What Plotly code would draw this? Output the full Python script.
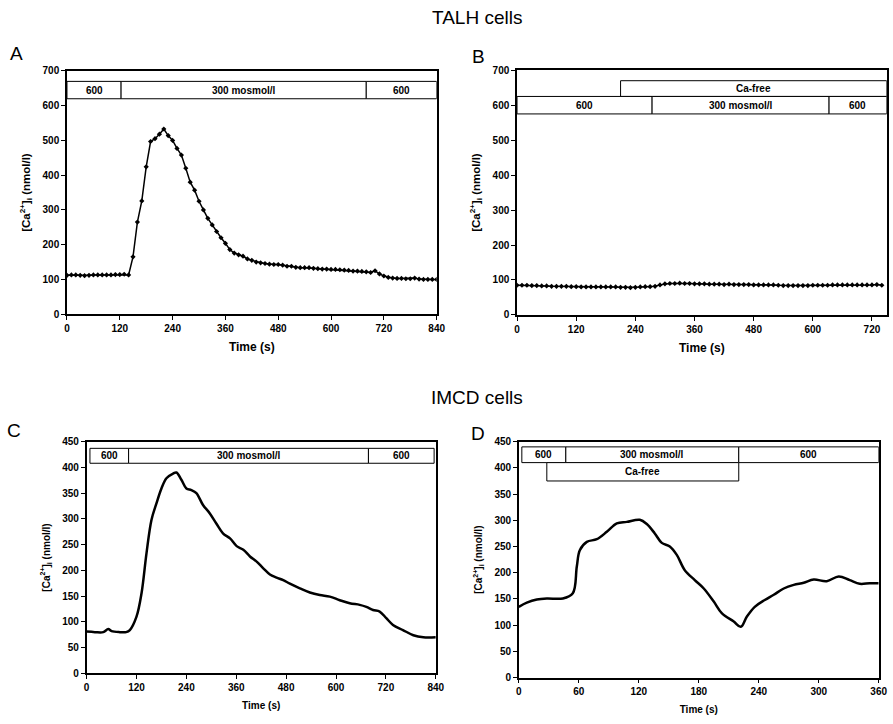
import plotly.graph_objects as go

# ---- data ----------------------------------------------------------------
# Panel A: TALH cells, 600 -> 300 -> 600 mosmol/l
time_a = [0, 10, 20, 30, 40, 50, 60, 70, 80, 90, 100, 110, 120, 130, 140, 150, 160, 170, 180, 190,
          200, 210, 220, 230, 240, 250, 260, 270, 280, 290, 300, 310, 320, 330, 340, 350, 360, 370, 380, 390,
          400, 410, 420, 430, 440, 450, 460, 470, 480, 490, 500, 510, 520, 530, 540, 550, 560, 570, 580, 590,
          600, 610, 620, 630, 640, 650, 660, 670, 680, 690, 700, 710, 720, 730, 740, 750, 760, 770, 780, 790,
          800, 810, 820, 830, 840]
ca_a = [112, 113, 113, 112, 111, 112, 113, 113, 113, 113, 113, 114, 114, 115, 113, 165, 265, 326, 424, 497,
        505, 518, 533, 514, 500, 477, 458, 420, 380, 357, 325, 300, 276, 257, 238, 220, 204, 186, 176, 171,
        167, 159, 155, 150, 148, 146, 144, 143, 143, 141, 138, 138, 135, 134, 134, 134, 132, 131, 130, 130,
        129, 129, 128, 127, 126, 124, 124, 123, 122, 120, 125, 116, 110, 106, 104, 103, 103, 102, 102, 104,
        101, 100, 100, 100, 100]

# Panel B: TALH cells, Ca-free
time_b = [0, 10, 20, 30, 40, 50, 60, 70, 80, 90, 100, 110, 120, 130, 140, 150, 160, 170, 180, 190,
          200, 210, 220, 230, 240, 250, 260, 270, 280, 290, 300, 310, 320, 330, 340, 350, 360, 370, 380, 390,
          400, 410, 420, 430, 440, 450, 460, 470, 480, 490, 500, 510, 520, 530, 540, 550, 560, 570, 580, 590,
          600, 610, 620, 630, 640, 650, 660, 670, 680, 690, 700, 710, 720, 730, 740]
ca_b = [85, 85, 85, 84, 84, 83, 83, 82, 82, 82, 82, 81, 81, 80, 80, 80, 80, 80, 80, 80,
        80, 79, 79, 78, 79, 80, 81, 81, 82, 86, 89, 90, 90, 91, 90, 90, 89, 89, 89, 88,
        88, 88, 87, 88, 87, 87, 87, 87, 86, 86, 86, 86, 86, 85, 84, 84, 84, 84, 84, 84,
        85, 85, 85, 85, 86, 86, 86, 86, 86, 86, 86, 86, 86, 87, 85]

# Panel C: IMCD cells
time_c = [0, 20, 40, 52, 60, 80, 95, 104, 120, 132, 144, 156, 168, 180, 192, 208, 216, 228, 240, 252,
          264, 280, 296, 312, 328, 345, 361, 377, 393, 409, 425, 441, 457, 473, 489, 513, 537, 561, 585, 609,
          633, 657, 673, 689, 705, 721, 737, 761, 786, 810, 840]
ca_c = [81, 80, 80, 86, 82, 80, 80, 84, 110, 155, 233, 298, 330, 359, 379, 388, 390, 376, 359, 356,
        350, 327, 311, 291, 272, 262, 247, 240, 227, 217, 204, 192, 186, 181, 174, 165, 157, 152, 149, 142,
        136, 133, 129, 123, 120, 107, 94, 84, 74, 70, 70]

# Panel D: IMCD cells, Ca-free
time_d = [0, 8, 18, 28, 44, 54, 58, 61, 68, 78, 88, 98, 108, 121, 128, 136, 143, 151, 158, 166,
          176, 185, 195, 203, 215, 222, 228, 236, 246, 255, 265, 275, 285, 295, 308, 320, 331, 341, 351, 360]
ca_d = [135, 143, 149, 151, 151, 161, 212, 243, 259, 264, 278, 294, 297, 301, 293, 275, 257, 250, 234, 205,
        186, 170, 145, 123, 107, 97, 116, 135, 148, 158, 170, 177, 181, 187, 184, 193, 186, 179, 180, 180]

# solution bars: (axis, x0, x1, y0, y1, label)
bars = [
    ("", 0, 123, 620, 670, "600"), ("", 123, 680, 620, 670, "300 mosmol/l"), ("", 680, 840, 620, 670, "600"),
    ("2", 210, 750, 625, 670, "Ca-free"),
    ("2", 0, 274, 575, 625, "600"), ("2", 274, 633, 575, 625, "300 mosmol/l"), ("2", 633, 750, 575, 625, "600"),
    ("3", 8, 101, 408, 437, "600"), ("3", 101, 678, 408, 437, "300 mosmol/l"), ("3", 678, 836, 408, 437, "600"),
    ("4", 3, 47, 410, 440, "600"), ("4", 47, 220, 410, 440, "300 mosmol/l"), ("4", 220, 360, 410, 440, "600"),
    ("4", 28, 220, 375, 410, "Ca-free"),
]

FONT = "Liberation Sans, Arial, sans-serif"
ca_title = "[Ca<sup>2+</sup>]<sub>i</sub> (nmol/l)"

fig = go.Figure()
line = dict(color="black", width=1.5)
fig.add_trace(go.Scatter(x=time_a, y=ca_a, mode="lines+markers", line=line,
                         marker=dict(symbol="diamond", size=4, color="black"), xaxis="x", yaxis="y"))
fig.add_trace(go.Scatter(x=time_b, y=ca_b, mode="lines+markers", line=line,
                         marker=dict(symbol="diamond", size=4, color="black"), xaxis="x2", yaxis="y2"))
fig.add_trace(go.Scatter(x=time_c, y=ca_c, mode="lines", line=dict(color="black", width=2.5, shape="spline"),
                         xaxis="x3", yaxis="y3"))
fig.add_trace(go.Scatter(x=time_d, y=ca_d, mode="lines", line=dict(color="black", width=2.5, shape="spline"),
                         xaxis="x4", yaxis="y4"))

for ax, x0, x1, y0, y1, label in bars:
    fig.add_shape(type="rect", xref="x" + ax, yref="y" + ax, x0=x0, x1=x1, y0=y0, y1=y1,
                  line=dict(color="black", width=1), fillcolor="white", layer="above")
    fig.add_annotation(x=(x0 + x1) / 2, y=(y0 + y1) / 2, xref="x" + ax, yref="y" + ax,
                       xanchor="center", yanchor="middle", text=label, showarrow=False,
                       font=dict(size=10, family=FONT, weight="bold", color="black"))


def axis_style(domain, rng, dtick, title, size, anchor, standoff):
    return dict(domain=domain, range=rng, dtick=dtick, tick0=0, showline=True, mirror=True,
                linecolor="black", linewidth=1.5, ticks="outside", ticklen=4, tickcolor="black",
                showgrid=False, zeroline=False, anchor=anchor, automargin=False,
                tickfont=dict(size=10, family=FONT, weight="bold", color="black"),
                title=dict(text=title, standoff=standoff,
                           font=dict(size=size, family=FONT, weight="bold", color="black")))


fig.update_layout(
    width=893, height=724, margin=dict(l=0, r=0, t=0, b=0, pad=0, autoexpand=False),
    paper_bgcolor="white", plot_bgcolor="white", showlegend=False,
    font=dict(family=FONT, color="black"),
    xaxis=axis_style([0.075, 0.489], [0, 840], 120, "Time (s)", 12, "y", 10),
    yaxis=axis_style([0.566, 0.902], [0, 700], 100, ca_title, 11.5, "x", 10),
    xaxis2=axis_style([0.579, 0.993], [0, 750], 120, "Time (s)", 12, "y2", 10),
    yaxis2=axis_style([0.565, 0.903], [0, 700], 100, ca_title, 11.5, "x2", 10),
    xaxis3=axis_style([0.097, 0.488], [0, 840], 120, "Time (s)", 10, "y3", 10),
    yaxis3=axis_style([0.070, 0.390], [0, 450], 50, ca_title, 10, "x3", 10),
    xaxis4=axis_style([0.581, 0.984], [0, 360], 60, "Time (s)", 10, "y4", 10),
    yaxis4=axis_style([0.064, 0.390], [0, 450], 50, ca_title, 10, "x4", 10),
)

# figure headings and panel letters
for text, x, y, size in [("TALH cells", 477, 18, 19), ("IMCD cells", 477, 397, 19),
                         ("A", 16, 53, 19), ("B", 478, 56, 19), ("C", 14, 431, 19), ("D", 478, 433, 19)]:
    fig.add_annotation(x=x / 893, y=1 - y / 724, xref="paper", yref="paper", xanchor="center",
                       yanchor="middle", text=text, showarrow=False,
                       font=dict(size=size, family=FONT, color="black"))

# drop the page's default body margin so the 893x724 figure fills the window exactly
fig.write_html("out.html", config={"displayModeBar": False},
               post_script="document.body.style.margin='0';")
